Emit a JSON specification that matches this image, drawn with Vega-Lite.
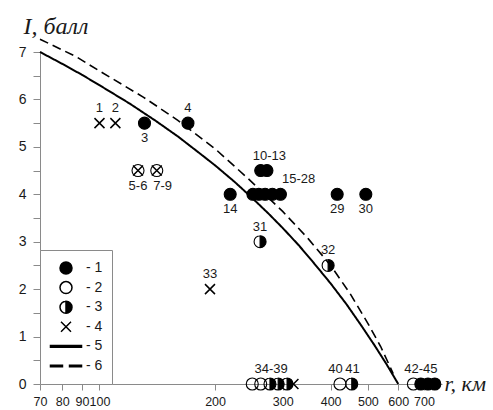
{
  "$schema": "https://vega.github.io/schema/vega-lite/v6.json",
  "width": 402,
  "height": 332,
  "autosize": {"type": "none"},
  "padding": {"left": 40, "top": 52, "right": 51, "bottom": 26},
  "background": "white",
  "config": {"view": {"stroke": null}, "axis": {"grid": false}},
  "datasets": {
    "curves": [
      {"curve": "5", "r": 70, "I": 7.0},
      {"curve": "5", "r": 80, "I": 6.75},
      {"curve": "5", "r": 90, "I": 6.52},
      {"curve": "5", "r": 100, "I": 6.3},
      {"curve": "5", "r": 120, "I": 5.91},
      {"curve": "5", "r": 140, "I": 5.55},
      {"curve": "5", "r": 160, "I": 5.22},
      {"curve": "5", "r": 180, "I": 4.9},
      {"curve": "5", "r": 200, "I": 4.61},
      {"curve": "5", "r": 225, "I": 4.26},
      {"curve": "5", "r": 250, "I": 3.92},
      {"curve": "5", "r": 275, "I": 3.6},
      {"curve": "5", "r": 300, "I": 3.29},
      {"curve": "5", "r": 330, "I": 2.93},
      {"curve": "5", "r": 360, "I": 2.57},
      {"curve": "5", "r": 400, "I": 2.12},
      {"curve": "5", "r": 440, "I": 1.68},
      {"curve": "5", "r": 480, "I": 1.24},
      {"curve": "5", "r": 520, "I": 0.82},
      {"curve": "5", "r": 560, "I": 0.41},
      {"curve": "5", "r": 600, "I": 0.0},
      {"curve": "6", "r": 70, "I": 7.27},
      {"curve": "6", "r": 87, "I": 6.9},
      {"curve": "6", "r": 100, "I": 6.6},
      {"curve": "6", "r": 130, "I": 6.05},
      {"curve": "6", "r": 160, "I": 5.56},
      {"curve": "6", "r": 200, "I": 4.96},
      {"curve": "6", "r": 244, "I": 4.33},
      {"curve": "6", "r": 300, "I": 3.64},
      {"curve": "6", "r": 350, "I": 3.06},
      {"curve": "6", "r": 400, "I": 2.5},
      {"curve": "6", "r": 450, "I": 1.9},
      {"curve": "6", "r": 500, "I": 1.28},
      {"curve": "6", "r": 540, "I": 0.79},
      {"curve": "6", "r": 582, "I": 0.22}
    ],
    "events": [
      {"type": "4", "r": 100, "I": 5.5},
      {"type": "4", "r": 110, "I": 5.5},
      {"type": "2", "r": 126, "I": 4.5},
      {"type": "4", "r": 126, "I": 4.5},
      {"type": "2", "r": 141, "I": 4.5},
      {"type": "4", "r": 141, "I": 4.5},
      {"type": "1", "r": 131, "I": 5.5},
      {"type": "1", "r": 170, "I": 5.5},
      {"type": "1", "r": 263, "I": 4.5},
      {"type": "1", "r": 273, "I": 4.5},
      {"type": "1", "r": 219, "I": 4},
      {"type": "1", "r": 251, "I": 4},
      {"type": "1", "r": 260, "I": 4},
      {"type": "1", "r": 270, "I": 4},
      {"type": "1", "r": 282, "I": 4},
      {"type": "1", "r": 296, "I": 4},
      {"type": "1", "r": 416, "I": 4},
      {"type": "1", "r": 494, "I": 4},
      {"type": "3", "r": 262, "I": 3},
      {"type": "3", "r": 394, "I": 2.5},
      {"type": "4", "r": 194, "I": 2},
      {"type": "2", "r": 250, "I": 0},
      {"type": "2", "r": 263, "I": 0},
      {"type": "3", "r": 278, "I": 0},
      {"type": "3", "r": 292, "I": 0},
      {"type": "3", "r": 308, "I": 0},
      {"type": "4", "r": 320, "I": 0},
      {"type": "2", "r": 423, "I": 0},
      {"type": "3", "r": 454, "I": 0},
      {"type": "2", "r": 657, "I": 0},
      {"type": "1", "r": 687, "I": 0},
      {"type": "1", "r": 717, "I": 0},
      {"type": "1", "r": 747, "I": 0}
    ],
    "labels": [
      {"text": "1", "r": 100, "I": 5.5, "side": "above"},
      {"text": "2", "r": 110, "I": 5.5, "side": "above"},
      {"text": "3", "r": 131, "I": 5.5, "side": "below"},
      {"text": "4", "r": 170, "I": 5.5, "side": "above"},
      {"text": "5-6", "r": 126, "I": 4.5, "side": "below"},
      {"text": "7-9", "r": 146, "I": 4.5, "side": "below"},
      {"text": "10-13", "r": 277, "I": 4.5, "side": "above"},
      {"text": "14", "r": 219, "I": 4, "side": "below"},
      {"text": "15-28", "r": 330, "I": 4, "side": "above"},
      {"text": "29", "r": 416, "I": 4, "side": "below"},
      {"text": "30", "r": 494, "I": 4, "side": "below"},
      {"text": "31", "r": 262, "I": 3, "side": "above"},
      {"text": "32", "r": 394, "I": 2.5, "side": "above"},
      {"text": "33", "r": 194, "I": 2, "side": "above"},
      {"text": "34-39", "r": 280, "I": 0, "side": "above"},
      {"text": "40", "r": 412, "I": 0, "side": "above"},
      {"text": "41", "r": 456, "I": 0, "side": "above"},
      {"text": "42-45", "r": 687, "I": 0, "side": "above"}
    ]
  },
  "encoding": {
    "x": {
      "field": "r",
      "type": "quantitative",
      "scale": {"type": "log", "domain": [70, 780], "nice": false},
      "axis": {
        "title": "r, км",
        "titleFont": "Liberation Serif",
        "titleFontStyle": "italic",
        "titleFontWeight": "normal",
        "titleFontSize": 22,
        "titleColor": "#1a1a1a",
        "titleAngle": 0,
        "titleAlign": "left",
        "titleBaseline": "alphabetic",
        "titleX": 404,
        "titleY": 6,
        "values": [70, 80, 90, 100, 200, 300, 400, 500, 600, 700],
        "format": "d",
        "labelFont": "Liberation Sans",
        "labelFontSize": 12.5,
        "labelColor": "#1a1a1a",
        "labelPadding": 5,
        "labelOverlap": false,
        "labelFlush": false,
        "labelBound": false,
        "tickSize": 6,
        "tickColor": "#8a8a8a",
        "domainColor": "#8a8a8a"
      }
    },
    "y": {
      "field": "I",
      "type": "quantitative",
      "scale": {"domain": [0, 7], "nice": false, "zero": false},
      "axis": {
        "title": "I, балл",
        "titleFont": "Liberation Serif",
        "titleFontStyle": "italic",
        "titleFontWeight": "normal",
        "titleFontSize": 24,
        "titleColor": "#1a1a1a",
        "titleAngle": 0,
        "titleAlign": "left",
        "titleBaseline": "alphabetic",
        "titleX": -17,
        "titleY": -19,
        "values": [0, 0.5, 1, 1.5, 2, 2.5, 3, 3.5, 4, 4.5, 5, 5.5, 6, 6.5, 7],
        "format": "~g",
        "labelExpr": "datum.value % 1 === 0 ? datum.label : ''",
        "labelFont": "Liberation Sans",
        "labelFontSize": 14,
        "labelColor": "#1a1a1a",
        "labelPadding": 7,
        "tickSize": 7,
        "tickColor": "#8a8a8a",
        "domainColor": "#8a8a8a",
        "encode": {
          "ticks": {"update": {"x2": {"signal": "datum.value % 1 === 0 ? -7 : -3.5"}}}
        }
      }
    }
  },
  "layer": [
    {
      "data": {"name": "curves"},
      "mark": {"type": "line", "clip": false, "color": "black"},
      "encoding": {
        "strokeDash": {
          "field": "curve",
          "type": "nominal",
          "scale": {"domain": ["5", "6"], "range": [[1, 0], [9, 5]]},
          "legend": null
        },
        "strokeWidth": {"condition": {"test": "datum.curve === '5'", "value": 2}, "value": 1.6}
      }
    },
    {
      "data": {"name": "events"},
      "mark": {"type": "point", "filled": true, "opacity": 1, "clip": false},
      "encoding": {
        "shape": {
          "field": "type",
          "type": "ordinal",
          "scale": {
            "domain": ["1", "2", "3", "4", "5", "6"],
            "range": [
              "M0.375,0A0.375,0.375 0 1,1 -0.375,0A0.375,0.375 0 1,1 0.375,0Z",
              "M0.375,0A0.375,0.375 0 1,1 -0.375,0A0.375,0.375 0 1,1 0.375,0Z",
              "M0,-0.375A0.375,0.375 0 0,1 0,0.375ZM0,0.375A0.375,0.375 0 0,1 0,-0.375A0.375,0.375 0 0,0 0,0.375",
              "M-0.3125,-0.3125L0.3125,0.3125M-0.3125,0.3125L0.3125,-0.3125",
              "M-0.97,-0.05L0.97,-0.05L0.97,0.05L-0.97,0.05Z",
              "M-0.97,-0.04L-0.22,-0.04L-0.22,0.04L-0.97,0.04ZM0.22,-0.04L0.97,-0.04L0.97,0.04L0.22,0.04Z"
            ]
          },
          "legend": {
            "title": null,
            "orient": "bottom-left",
            "offset": 0,
            "padding": 9,
            "strokeColor": "#8a8a8a",
            "fillColor": "white",
            "symbolSize": 1024,
            "symbolStrokeColor": "black",
            "symbolOpacity": 1,
            "clipHeight": 18,
            "rowPadding": 1.6,
            "labelOffset": 3,
            "labelFont": "Liberation Sans",
            "labelFontSize": 14,
            "labelColor": "#1a1a1a",
            "labelExpr": "'- ' + datum.label"
          }
        },
        "fill": {
          "field": "type",
          "type": "ordinal",
          "scale": {
            "domain": ["1", "2", "3", "4", "5", "6"],
            "range": ["black", "transparent", "black", "transparent", "black", "black"]
          }
        },
        "stroke": {
          "field": "type",
          "type": "ordinal",
          "scale": {
            "domain": ["1", "2", "3", "4", "5", "6"],
            "range": ["black", "black", "black", "black", "black", "black"]
          }
        },
        "strokeWidth": {"condition": {"test": "datum.type === '4'", "value": 1.5}, "value": 1.1},
        "size": {"value": 1024}
      }
    },
    {
      "data": {"name": "labels"},
      "transform": [{"filter": "datum.side === 'above'"}],
      "mark": {"type": "text", "dy": -15, "font": "Liberation Sans", "fontSize": 13, "color": "#1a1a1a", "baseline": "middle", "clip": false},
      "encoding": {"text": {"field": "text"}}
    },
    {
      "data": {"name": "labels"},
      "transform": [{"filter": "datum.side === 'below'"}],
      "mark": {"type": "text", "dy": 15, "font": "Liberation Sans", "fontSize": 13, "color": "#1a1a1a", "baseline": "middle", "clip": false},
      "encoding": {"text": {"field": "text"}}
    }
  ]
}
